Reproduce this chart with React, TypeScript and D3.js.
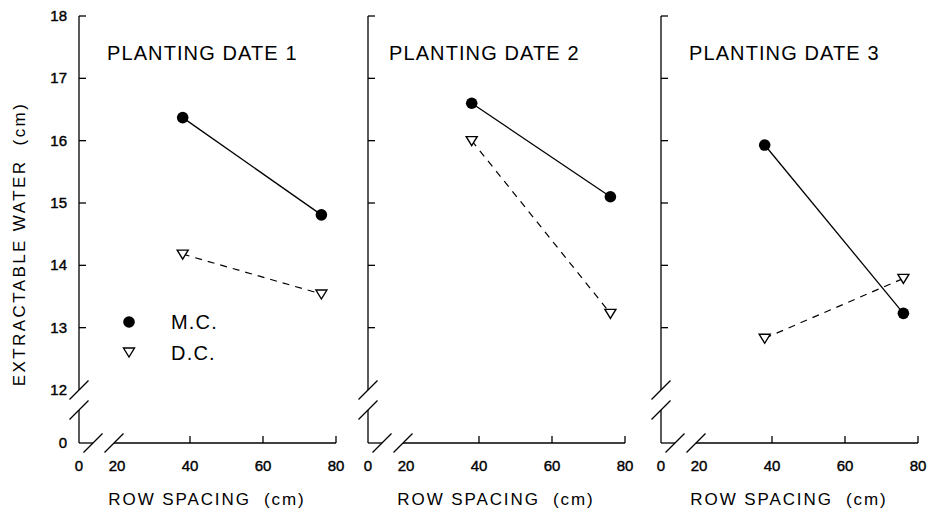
import React from 'react';
import * as d3 from 'd3';

// size of the page
const width = 928;
const height = 509;

// data
const panelTitles = ['PLANTING DATE 1', 'PLANTING DATE 2', 'PLANTING DATE 3'];
const rowSpacing = [38, 76];
const mcWater = [
  [16.37, 14.81],
  [16.6, 15.1],
  [15.93, 13.23],
];
const dcWater = [
  [14.18, 13.54],
  [16.0, 13.23],
  [12.83, 13.79],
];
const yTickValues = [13, 14, 15, 16, 17, 18];
const yLabelValues = [12, 13, 14, 15, 16, 17, 18];
const xTickValues = [40, 60, 80];
const xLabelValues = [20, 40, 60, 80];
const legendLabels = ['M.C.', 'D.C.'];

// layout
const origins = [79, 368, 661];
const panelW = 257;
const yZero = 443;
const font = '"Liberation Sans", Arial, sans-serif';

const y = d3.scaleLinear().domain([12, 18]).range([390, 16]);
const triangle = 'M-5.5,-4L5.5,-4L0,5Z';

function slash(cx: number, cy: number) {
  return `M${cx - 9.5},${cy + 9.5}L${cx + 9.5},${cy - 9.5}`;
}

function Panel({ i }: { i: number }) {
  const ox = origins[i];
  const x = d3.scaleLinear().domain([20, 80]).range([ox + 38, ox + panelW]);
  const line = d3.line<number>().x((_, k) => x(rowSpacing[k])).y(d => y(d));
  const axis = { stroke: '#000', strokeWidth: 1.3, fill: 'none' };

  return (
    <g>
      {/* y axis with break */}
      <path d={`M${ox},${y(18)}V${y(12)}`} {...axis} />
      <path d={`M${ox},${y(12) + 20}V${yZero}`} {...axis} />
      <path d={slash(ox, y(12))} {...axis} />
      <path d={slash(ox, y(12) + 20)} {...axis} />
      {yTickValues.map(v => (
        <path key={v} d={`M${ox},${y(v)}h7`} {...axis} />
      ))}
      {/* x axis with break */}
      <path d={`M${ox},${yZero}H${ox + 14}`} {...axis} />
      <path d={`M${ox + 35},${yZero}H${x(80)}`} {...axis} />
      <path d={slash(ox + 14, yZero)} {...axis} />
      <path d={slash(ox + 35, yZero)} {...axis} />
      {xTickValues.map(v => (
        <path key={v} d={`M${x(v)},${yZero}v-7`} {...axis} />
      ))}
      <g fontFamily={font} fontSize={15} textAnchor="middle" stroke="#000" strokeWidth={0.4}>
        <text x={ox} y={471}>0</text>
        {xLabelValues.map(v => (
          <text key={v} x={x(v)} y={471}>{v}</text>
        ))}
      </g>
      <text
        x={ox + 128}
        y={505}
        fontFamily={font}
        fontSize={17}
        letterSpacing={1.9}
        textAnchor="middle"
        style={{ whiteSpace: 'pre' }}
      >
        {'ROW SPACING  (cm)'}
      </text>
      <text
        x={ox + (i === 1 ? 21 : 28)}
        y={60}
        fontFamily={font}
        fontSize={20}
        letterSpacing={1.1}
      >
        {panelTitles[i]}
      </text>

      {/* series */}
      <path d={line(dcWater[i]) || ''} stroke="#000" strokeWidth={1.2} strokeDasharray="7,6" fill="none" />
      <path d={line(mcWater[i]) || ''} stroke="#000" strokeWidth={1.3} fill="none" />
      {mcWater[i].map((v, k) => (
        <circle key={k} cx={x(rowSpacing[k])} cy={y(v)} r={5.8} fill="#000" />
      ))}
      {dcWater[i].map((v, k) => (
        <path
          key={k}
          d={triangle}
          transform={`translate(${x(rowSpacing[k])},${y(v)})`}
          fill="#fff"
          stroke="#000"
          strokeWidth={1.4}
        />
      ))}
    </g>
  );
}

export default function App() {
  return (
    <svg
      width={width}
      height={height}
      style={{ position: 'absolute', left: 0, top: 0, background: '#fff' }}
    >
      {panelTitles.map((_, i) => (
        <Panel key={i} i={i} />
      ))}

      {/* y labels only on the first panel */}
      <g fontFamily={font} fontSize={15} textAnchor="end" stroke="#000" strokeWidth={0.4}>
        {yLabelValues.map(v => (
          <text key={v} x={origins[0] - 12} y={y(v) + 5}>{v}</text>
        ))}
        <text x={origins[0] - 12} y={yZero + 5}>0</text>
      </g>
      <text
        transform="translate(25,244) rotate(-90)"
        fontFamily={font}
        fontSize={17}
        letterSpacing={2.4}
        textAnchor="middle"
        style={{ whiteSpace: 'pre' }}
      >
        {'EXTRACTABLE WATER  (cm)'}
      </text>

      {/* legend */}
      <circle cx={129} cy={322} r={5.8} fill="#000" />
      <path d={triangle} transform="translate(129,352)" fill="#fff" stroke="#000" strokeWidth={1.4} />
      <g fontFamily={font} fontSize={20} letterSpacing={1.2}>
        <text x={171} y={329}>{legendLabels[0]}</text>
        <text x={171} y={360}>{legendLabels[1]}</text>
      </g>
    </svg>
  );
}
